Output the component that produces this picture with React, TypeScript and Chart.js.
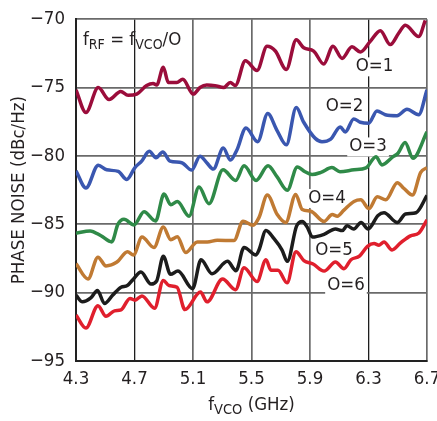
import React, { useEffect, useRef } from 'react';
import { Chart, registerables } from 'chart.js';

Chart.register(...registerables);

const FONT = "'Liberation Sans Narrow', 'DejaVu Sans Condensed', 'Arial Narrow', 'Liberation Sans', sans-serif";
const TEXT = '#231f20';
const FS = 18.5;

// Frequency (GHz) / phase noise (dBc/Hz) for each output divider
const o1Freq = [4.3, 4.368, 4.452, 4.526, 4.606, 4.656, 4.715, 4.783, 4.827, 4.852, 4.897, 4.931, 4.989, 5.03, 5.102, 5.148, 5.194, 5.25, 5.31, 5.355, 5.389, 5.458, 5.538, 5.606, 5.663, 5.738, 5.806, 5.857, 5.925, 5.994, 6.057, 6.119, 6.187, 6.244, 6.312, 6.381, 6.449, 6.506, 6.552, 6.643, 6.688];
const o1Noise = [-75.16, -76.82, -74.99, -75.87, -75.28, -75.56, -75.47, -74.85, -74.69, -74.81, -73.5, -74.62, -74.62, -74.38, -75.47, -74.99, -74.81, -74.85, -74.99, -74.62, -74.85, -73.03, -73.74, -71.97, -72.32, -73.67, -71.49, -72.08, -72.32, -73.27, -71.97, -72.86, -72.01, -72.39, -71.61, -70.83, -71.85, -71.02, -70.43, -71.26, -70.07];

const o2Freq = [4.3, 4.368, 4.452, 4.51, 4.589, 4.647, 4.703, 4.749, 4.801, 4.847, 4.893, 4.943, 5.023, 5.091, 5.148, 5.194, 5.239, 5.307, 5.356, 5.401, 5.462, 5.542, 5.611, 5.674, 5.738, 5.806, 5.857, 5.936, 5.982, 6.039, 6.107, 6.141, 6.199, 6.244, 6.301, 6.358, 6.415, 6.495, 6.563, 6.643, 6.7];
const o2Noise = [-81.08, -82.34, -80.67, -81.01, -81.13, -81.72, -80.85, -80.37, -79.66, -80.13, -79.71, -80.37, -80.49, -81.03, -80.01, -80.49, -80.96, -79.42, -80.3, -79.54, -77.95, -78.95, -76.89, -78.12, -79.18, -76.46, -77.53, -78.71, -78.95, -78.79, -77.88, -78.24, -77.29, -77.53, -77.6, -76.7, -76.98, -77.05, -76.58, -76.98, -75.16];

const o3Freq = [4.3, 4.396, 4.471, 4.544, 4.587, 4.628, 4.697, 4.765, 4.844, 4.902, 4.948, 4.993, 5.073, 5.141, 5.209, 5.305, 5.392, 5.449, 5.531, 5.613, 5.674, 5.745, 5.813, 5.866, 5.914, 5.975, 6.05, 6.105, 6.201, 6.283, 6.351, 6.392, 6.468, 6.502, 6.55, 6.604, 6.7];
const o3Noise = [-85.65, -85.48, -85.84, -86.29, -84.99, -84.63, -85.04, -84.08, -84.75, -82.78, -83.57, -83.33, -84.4, -82.27, -83.49, -81.01, -81.79, -80.72, -81.79, -80.72, -81.51, -82.5, -80.8, -81.15, -81.36, -81.2, -80.85, -81.15, -81.01, -80.87, -80.05, -80.65, -80.05, -79.8, -79.02, -80.16, -78.24];

const o4Freq = [4.3, 4.382, 4.45, 4.505, 4.58, 4.652, 4.693, 4.751, 4.833, 4.897, 4.948, 4.993, 5.05, 5.129, 5.198, 5.266, 5.38, 5.442, 5.51, 5.551, 5.608, 5.676, 5.734, 5.802, 5.847, 5.905, 5.996, 6.052, 6.087, 6.132, 6.201, 6.247, 6.303, 6.36, 6.418, 6.497, 6.543, 6.6, 6.657, 6.7];
const o4Noise = [-87.88, -89.0, -87.4, -88.04, -87.76, -87.0, -87.24, -85.93, -86.69, -85.2, -86.12, -85.91, -87.07, -86.29, -86.29, -86.16, -86.19, -84.77, -85.06, -84.51, -82.86, -84.28, -84.87, -82.81, -83.92, -84.04, -84.79, -84.28, -84.4, -83.96, -83.33, -83.21, -83.85, -82.98, -83.21, -81.95, -82.38, -82.86, -81.2, -80.85];

const o5Freq = [4.3, 4.344, 4.401, 4.447, 4.495, 4.55, 4.608, 4.651, 4.69, 4.744, 4.813, 4.852, 4.897, 4.946, 4.997, 5.097, 5.155, 5.23, 5.336, 5.394, 5.449, 5.531, 5.551, 5.599, 5.654, 5.709, 5.745, 5.808, 5.847, 5.882, 5.916, 5.996, 6.074, 6.121, 6.153, 6.199, 6.249, 6.297, 6.365, 6.406, 6.497, 6.553, 6.625, 6.7];
const o5Noise = [-90.19, -90.67, -90.38, -89.84, -90.79, -90.19, -89.6, -89.48, -89.03, -88.49, -89.37, -89.13, -87.33, -88.66, -88.42, -89.71, -87.59, -88.61, -87.71, -88.39, -86.69, -87.24, -86.88, -85.45, -86.05, -86.88, -87.71, -85.13, -84.79, -85.22, -85.93, -85.73, -85.34, -85.46, -85.11, -85.34, -84.87, -85.34, -84.35, -84.15, -84.87, -84.24, -84.15, -82.89];

const o6Freq = [4.3, 4.368, 4.45, 4.505, 4.563, 4.608, 4.669, 4.703, 4.751, 4.837, 4.897, 4.936, 4.991, 5.045, 5.151, 5.196, 5.302, 5.391, 5.449, 5.538, 5.599, 5.633, 5.681, 5.743, 5.804, 5.858, 5.921, 5.996, 6.074, 6.132, 6.18, 6.238, 6.293, 6.338, 6.372, 6.406, 6.461, 6.519, 6.587, 6.645, 6.7];
const o6Noise = [-91.63, -92.59, -90.95, -91.73, -91.33, -91.26, -90.42, -90.55, -90.24, -91.14, -89.11, -89.48, -89.6, -91.24, -89.96, -90.67, -89.0, -89.78, -88.18, -89.18, -87.59, -88.36, -88.36, -89.28, -87.0, -87.65, -87.9, -88.42, -87.76, -88.25, -87.59, -87.33, -86.62, -86.41, -86.53, -86.29, -86.88, -86.36, -85.84, -85.63, -84.67];

const seriesFreq = [o1Freq, o2Freq, o3Freq, o4Freq, o5Freq, o6Freq];
const seriesNoise = [o1Noise, o2Noise, o3Noise, o4Noise, o5Noise, o6Noise];
const seriesColors = ['#9b0d3b', '#3a57b0', '#2f8a48', '#c07a33', '#1c1c1c', '#e01f2d'];

const curveLabels = ['O=1', 'O=2', 'O=3', 'O=4', 'O=5', 'O=6'];
const labelFreq = [6.341, 6.136, 6.297, 6.016, 6.064, 6.146];
const labelNoise = [-73.44, -76.39, -79.3, -83.07, -86.9, -89.46];

const xTickValues = [4.3, 4.7, 5.1, 5.5, 5.9, 6.3, 6.7];
const yTickValues = [-95, -90, -85, -80, -75, -70];

function drawSubscripted(ctx: CanvasRenderingContext2D, parts: [string, boolean][], x: number, y: number, big: number, small: number) {
  let cx = x;
  for (const [txt, sub] of parts) {
    ctx.font = `${sub ? small : big}px ${FONT}`;
    ctx.fillText(txt, cx, sub ? y + 4 : y);
    cx += ctx.measureText(txt).width;
  }
  return cx - x;
}

function measureSubscripted(ctx: CanvasRenderingContext2D, parts: [string, boolean][], big: number, small: number) {
  let w = 0;
  for (const [txt, sub] of parts) {
    ctx.font = `${sub ? small : big}px ${FONT}`;
    w += ctx.measureText(txt).width;
  }
  return w;
}

const textPlugin = {
  id: 'textPlugin',
  beforeDatasetsDraw(chart: any) {
    const { ctx, scales } = chart;
    ctx.save();
    ctx.font = `${FS}px ${FONT}`;
    ctx.textBaseline = 'middle';
    ctx.textAlign = 'center';
    curveLabels.forEach((t, i) => {
      const x = scales.x.getPixelForValue(labelFreq[i]);
      const y = scales.y.getPixelForValue(labelNoise[i]);
      const m = ctx.measureText(t);
      ctx.fillStyle = '#ffffff';
      ctx.fillRect(x - m.width / 2 - 2, y - 9, m.width + 4, 19);
    });
    ctx.restore();
  },
  afterDatasetsDraw(chart: any) {
    const { ctx, chartArea } = chart;
    ctx.save();
    ctx.fillStyle = TEXT;
    ctx.font = `${FS}px ${FONT}`;
    ctx.textBaseline = 'middle';
    ctx.textAlign = 'center';
    curveLabels.forEach((t, i) => {
      const x = chart.scales.x.getPixelForValue(labelFreq[i]);
      const y = chart.scales.y.getPixelForValue(labelNoise[i]);
      ctx.fillText(t, x, y);
    });
    ctx.textAlign = 'left';
    ctx.textBaseline = 'alphabetic';
    const ann: [string, boolean][] = [['f', false], ['RF', true], [' = f', false], ['VCO', true], ['/O', false]];
    drawSubscripted(ctx, ann, chartArea.left + 7, chartArea.top + 26, FS, 14);
    const xt: [string, boolean][] = [['f', false], ['VCO', true], [' (GHz)', false]];
    const w = measureSubscripted(ctx, xt, FS, 14.5);
    drawSubscripted(ctx, xt, (chartArea.left + chartArea.right) / 2 - w / 2, chartArea.bottom + 49, FS, 14.5);
    ctx.restore();
  },
};

export default function App() {
  const ref = useRef<HTMLCanvasElement>(null);
  useEffect(() => {
    if (!ref.current) return;
    const datasets = seriesFreq.map((fx, i) => ({
      label: curveLabels[i],
      data: fx.map((x, j) => ({ x, y: seriesNoise[i][j] })),
      borderColor: seriesColors[i],
      backgroundColor: seriesColors[i],
      borderWidth: 3.5,
      pointRadius: 0,
      cubicInterpolationMode: 'monotone' as const,
      fill: false,
    }));
    const chart = new Chart(ref.current, {
      type: 'line',
      data: { datasets },
      plugins: [textPlugin],
      options: {
        responsive: false,
        animation: false,
        layout: { padding: { left: 0, top: 9, right: 33, bottom: 0 } },
        plugins: { legend: { display: false }, tooltip: { enabled: false } },
        scales: {
          x: {
            type: 'linear',
            min: 4.3,
            max: 6.7,
            afterBuildTicks: (s: any) => { s.ticks = xTickValues.map((v) => ({ value: v })); },
            afterFit: (s: any) => { s.height = 60; },
            ticks: {
              callback: (v: any) => Number(v).toFixed(1),
              font: { family: FONT, size: FS, lineHeight: 0.9 },
              color: TEXT,
              padding: 10,
              maxRotation: 0,
              autoSkip: false,
            },
            grid: {
              color: (c: any) => (c.tick && (c.tick.value === 4.7 || c.tick.value === 6.3) ? '#1e1e1e' : '#6a6a6a'),
              lineWidth: (c: any) => (c.tick && (c.tick.value === 4.7 || c.tick.value === 6.3) ? 1.3 : 1.7),
              drawTicks: false,
            },
            border: { color: '#222', width: 2 },
          },
          y: {
            type: 'linear',
            min: -95,
            max: -70,
            afterBuildTicks: (s: any) => { s.ticks = yTickValues.map((v) => ({ value: v })); },
            afterFit: (s: any) => { s.width = 76; },
            ticks: {
              callback: (v: any) => String(v).replace('-', '\u2212'),
              font: { family: FONT, size: FS, lineHeight: 0.9 },
              color: TEXT,
              padding: 11,
            },
            grid: { color: '#6a6a6a', lineWidth: 1.7, drawTicks: false },
            border: { color: '#222', width: 2 },
            title: {
              display: true,
              text: 'PHASE NOISE (dBc/Hz)',
              font: { family: FONT, size: FS, lineHeight: 1 },
              color: TEXT,
              padding: { top: 10, bottom: 0 },
            },
          },
        },
      },
    });
    return () => chart.destroy();
  }, []);
  return (
    <div style={{ position: 'fixed', left: 0, top: 0, width: 437, height: 421, overflow: 'hidden', background: '#fff' }}>
      <canvas ref={ref} width={460} height={421} style={{ width: 460, height: 421, display: 'block' }} />
    </div>
  );
}
